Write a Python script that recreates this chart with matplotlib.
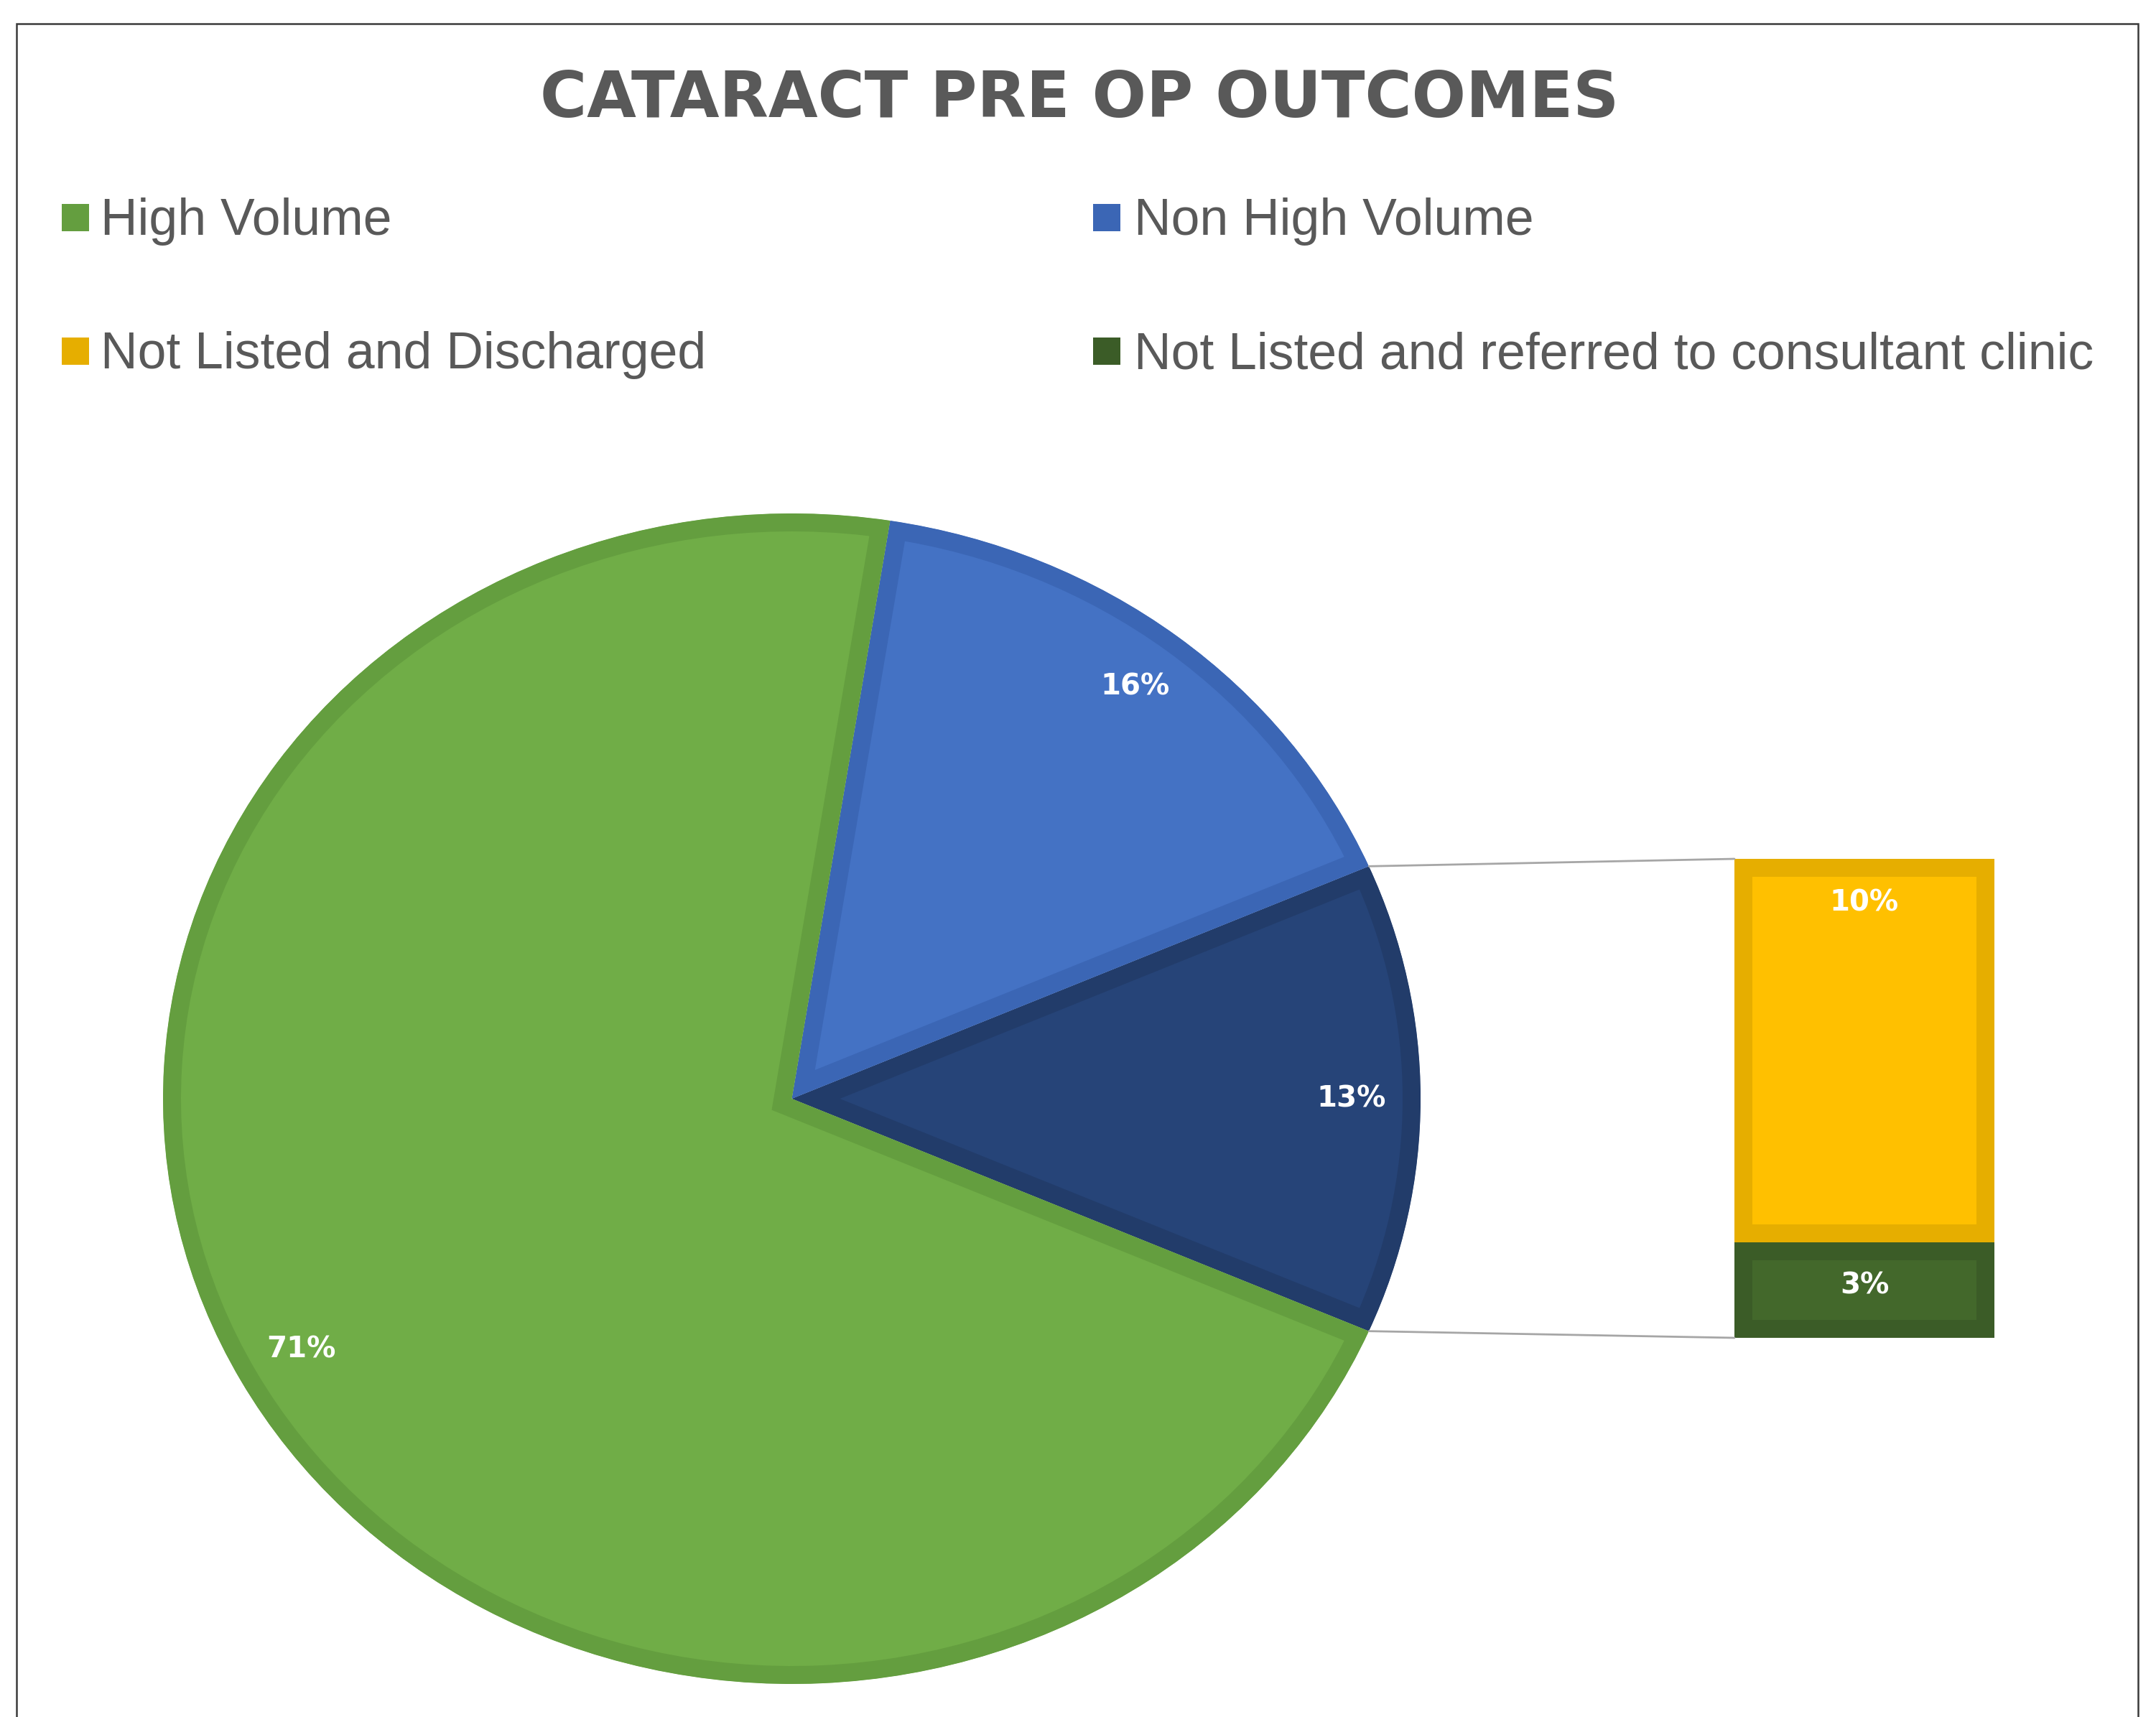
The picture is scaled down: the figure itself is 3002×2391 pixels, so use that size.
import matplotlib
matplotlib.use("Agg")
import matplotlib.pyplot as plt
from matplotlib.patches import Rectangle, ConnectionPatch
import numpy as np

# ---------------- data ----------------
title = "CATARACT PRE OP OUTCOMES"
categories = ["High Volume", "Non High Volume",
              "Not Listed and Discharged",
              "Not Listed and referred to consultant clinic"]
values = [71.0, 16.0, 10.4, 2.6]          # percent
fill_colors = ["#70AD47", "#4472C4", "#FFC000", "#43682B"]
edge_colors = ["#649E3F", "#3B66B5", "#E6AE00", "#3B5C27"]
other_fill = "#264478"
other_edge = "#223C6A"

W, H = 3002, 2391
fig = plt.figure(figsize=(W / 100, H / 100), dpi=100)


def px_rect(x0, y0, x1, y1):
    return [x0 / W, 1 - y1 / H, (x1 - x0) / W, (y1 - y0) / H]


# ---------------- frame ----------------
fig.add_artist(Rectangle((23 / W, -0.02), (2977 - 23) / W, 1.02 - 33 / H,
                         transform=fig.transFigure, fill=False,
                         edgecolor="#3A3A3A", linewidth=1.8))

# ---------------- title ----------------
fig.text(1503 / W, 1 - 138 / H, title, ha="center", va="center",
         fontsize=64, fontweight="bold", color="#595959",
         family="DejaVu Sans")

# ---------------- legend ----------------
marker_x = [86, 1522]
text_x = [140, 1579]
base_y = [327, 513]
mark_cy = [302.5, 488.5]
msz = 38
for i, lab in enumerate(categories):
    c, r = i % 2, i // 2
    rect = Rectangle((marker_x[c] / W, 1 - (mark_cy[r] + msz / 2) / H),
                     msz / W, msz / H, transform=fig.transFigure,
                     facecolor=edge_colors[i], edgecolor="none")
    fig.add_artist(rect)
    fig.text(text_x[c] / W, 1 - base_y[r] / H, lab, ha="left",
             va="baseline", fontsize=51.5, color="#595959",
             family="Liberation Sans")

# ---------------- pie ----------------
other = values[2] + values[3]
pie_vals = [other, values[1], values[0]]
pie_fill = [other_fill, fill_colors[1], fill_colors[0]]
pie_edge = [other_edge, edge_colors[1], edge_colors[0]]
total = sum(pie_vals)

ax = fig.add_axes(px_rect(227, 715, 1978, 2345))
start = -other / total * 360 / 2
wedges, texts, autotexts = ax.pie(
    pie_vals, colors=pie_fill, startangle=start, counterclock=True,
    autopct=lambda p: f"{p:.0f}%", pctdistance=0.89, radius=1,
    textprops=dict(color="white", fontsize=29, fontweight="bold",
                   family="DejaVu Sans"))
for w, ec in zip(wedges, pie_edge):
    w.set_edgecolor(ec)
    w.set_linewidth(36)
    w.set_clip_on(True)
    w.set_clip_path(w)
ax.set_aspect("auto")
ax.set_xlim(-1, 1)
ax.set_ylim(-1, 1)
ax.axis("off")

# ---------------- bar ----------------
axb = fig.add_axes(px_rect(2415, 1196, 2777, 1863))
bottoms = [0.0, values[3]]
seg_vals = [values[3], values[2]]
seg_fill = [fill_colors[3], fill_colors[2]]
seg_edge = [edge_colors[3], edge_colors[2]]
for b, v, fc, ec in zip(bottoms, seg_vals, seg_fill, seg_edge):
    bars = axb.bar(0, v, bottom=b, width=1.0, color=fc, edgecolor=ec,
                   linewidth=36)
    for p in bars:
        p.set_clip_on(True)
        p.set_clip_path(p)
    axb.annotate(f"{v / total * 100:.0f}%", xy=(0, b + v), xytext=(0, -44),
                 textcoords="offset points", ha="center", va="center",
                 color="white", fontsize=29, fontweight="bold",
                 family="DejaVu Sans")
axb.set_xlim(-0.5, 0.5)
axb.set_ylim(0, other)
axb.axis("off")

# ---------------- connectors ----------------
theta = np.deg2rad(other / total * 360 / 2)
for sgn, yb in [(1, 1), (-1, 0)]:
    con = ConnectionPatch(xyA=(np.cos(theta), sgn * np.sin(theta)),
                          coordsA=ax.transData,
                          xyB=(0, yb), coordsB=axb.transAxes,
                          color="#A6A6A6", linewidth=2.0)
    fig.add_artist(con)

fig.savefig("out.png", dpi=100, facecolor="white")
